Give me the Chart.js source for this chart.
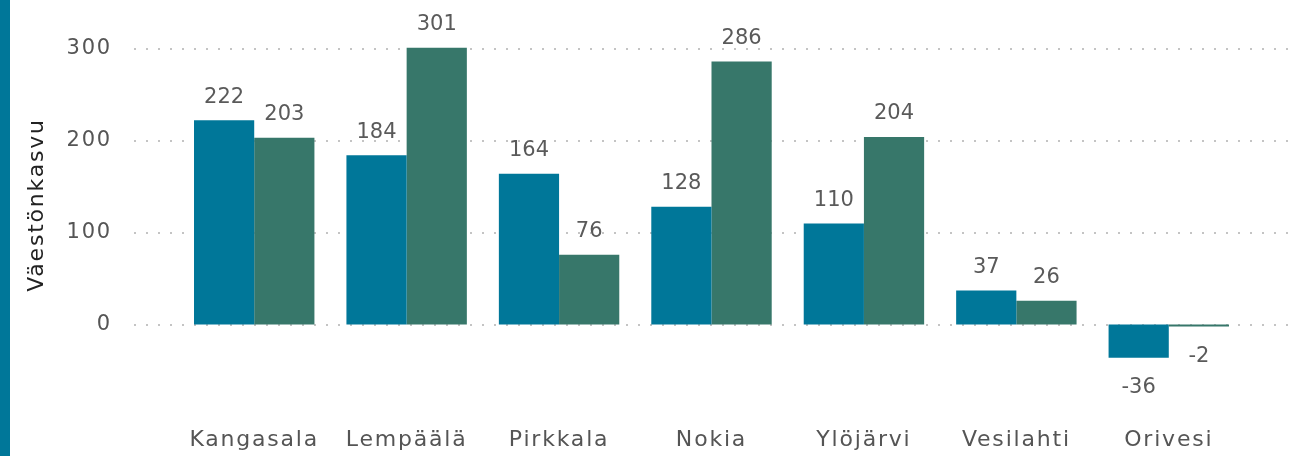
<!DOCTYPE html>
<html><head><meta charset="utf-8">
<script src="https://cdn.jsdelivr.net/npm/chart.js@4"></script>
<style>html,body{margin:0;padding:0;background:#fff;}#wrap{width:1291px;height:456px;position:relative;}</style>
</head><body><div id="wrap"><canvas id="c" width="1291" height="456"></canvas></div>
<script>
const categories = ["Kangasala","Lempäälä","Pirkkala","Nokia","Ylöjärvi","Vesilahti","Orivesi"];
const series1 = [222,184,164,128,110,37,-36];
const series2 = [203,301,76,286,204,26,-2];
const yTicks = [0,100,200,300];
const yTitle = "Väestönkasvu";

const TEAL = "#007799", GREEN = "#37776a";
const FONT = "'DejaVu Sans', sans-serif";

const decor = {
  id: 'decor',
  beforeDraw(chart){
    const ctx = chart.ctx;
    ctx.fillStyle = TEAL;
    ctx.fillRect(0,0,10,chart.height);
    ctx.letterSpacing = "1.8px";
  },
  beforeDatasetsDraw(chart){
    const ctx = chart.ctx, y = chart.scales.y;
    ctx.save();
    ctx.strokeStyle = "#c4c4c4";
    ctx.lineWidth = 2;
    ctx.setLineDash([2,10]);
    yTicks.forEach(v=>{
      const py = Math.round(y.getPixelForValue(v));
      ctx.beginPath(); ctx.moveTo(134,py); ctx.lineTo(chart.width,py); ctx.stroke();
    });
    ctx.restore();
  },
  afterDatasetsDraw(chart){
    const ctx = chart.ctx;
    ctx.save();
    ctx.letterSpacing = "0px";
    ctx.font = "21px " + FONT;
    ctx.fillStyle = "#5a5a5a";
    ctx.textAlign = "center";
    ctx.textBaseline = "middle";
    chart.data.datasets.forEach((ds,i)=>{
      chart.getDatasetMeta(i).data.forEach((bar,j)=>{
        const v = ds.data[j];
        if (v >= 0){ ctx.fillText(String(v), bar.x, bar.y - 23); }
        else { ctx.fillText(String(v), bar.x, bar.y + 30); }
      });
    });
    ctx.restore();
  }
};

new Chart(document.getElementById('c'), {
  type: 'bar',
  data: {
    labels: categories,
    datasets: [
      {label: "Sarja 1", data: series1, backgroundColor: TEAL},
      {label: "Sarja 2", data: series2, backgroundColor: GREEN}
    ]
  },
  options: {
    responsive: false,
    animation: false,
    layout: {padding: {left: 14, right: 46, top: 21, bottom: 0}},
    plugins: {legend: {display: false}, tooltip: {enabled: false}},
    datasets: {bar: {barPercentage: 1, categoryPercentage: 0.79}},
    scales: {
      x: {
        afterFit(s){ s.height = 67; s.paddingLeft = 0; s.paddingRight = 0; },
        grid: {display: false, drawTicks: false},
        border: {display: false},
        ticks: {color: "#555", font: {family: FONT, size: 22}, padding: 38, maxRotation: 0, autoSkip: false}
      },
      y: {
        min: -70, max: 330,
        afterBuildTicks(s){ s.ticks = yTicks.map(v=>({value:v})); },
        afterFit(s){ s.width = 164; s.paddingTop = 0; s.paddingBottom = 0; },
        grid: {display: false, drawTicks: false},
        border: {display: false},
        ticks: {color: "#555", font: {family: FONT, size: 21}, padding: 66},
        title: {display: true, text: yTitle, color: "#222", font: {family: FONT, size: 22}, padding: {top: 10, bottom: 0}}
      }
    }
  },
  plugins: [decor]
});
</script></body></html>
